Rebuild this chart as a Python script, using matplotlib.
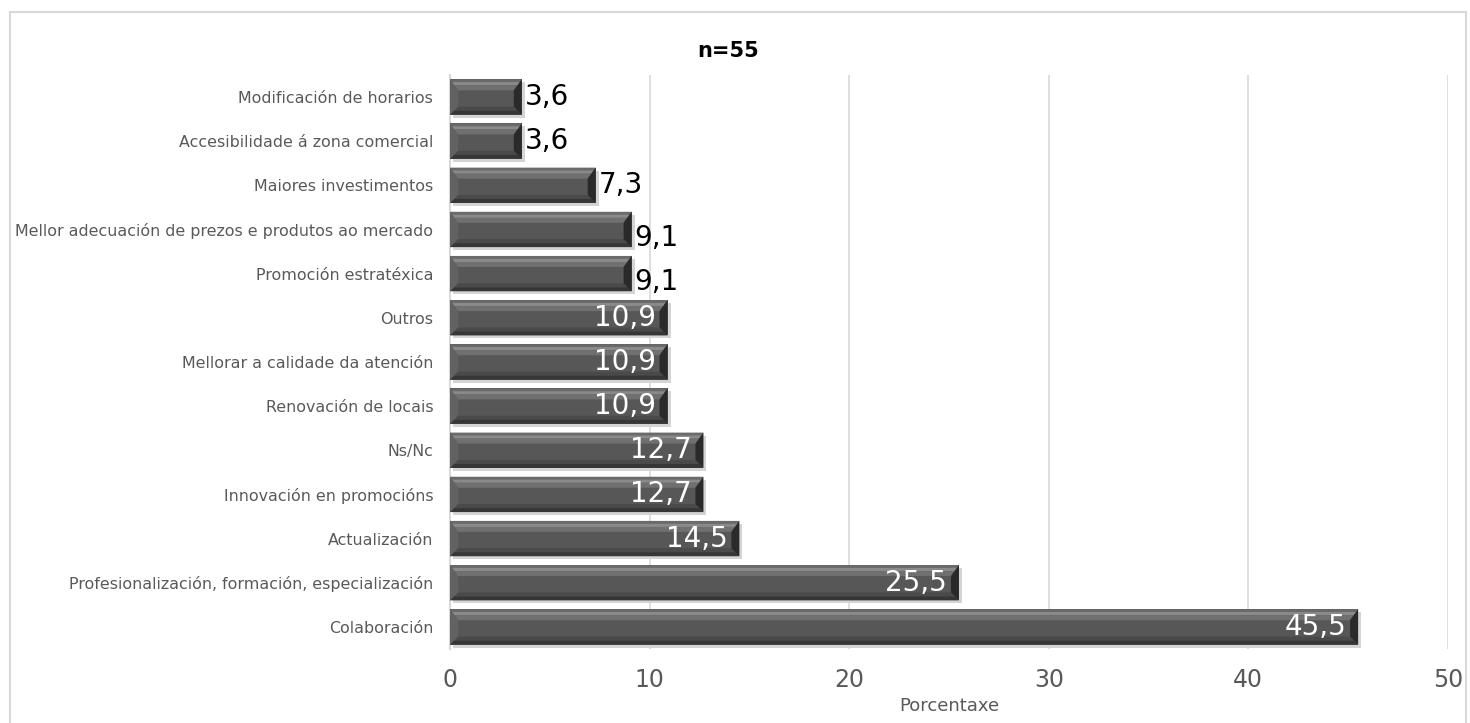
import matplotlib
matplotlib.use("Agg")
import matplotlib.pyplot as plt
from matplotlib.patches import Polygon, Rectangle

# ── Data ──────────────────────────────────────────────────────────────────────
categories = [
    "Modificación de horarios",
    "Accesibilidade á zona comercial",
    "Maiores investimentos",
    "Mellor adecuación de prezos e produtos ao mercado",
    "Promoción estratéxica",
    "Outros",
    "Mellorar a calidade da atención",
    "Renovación de locais",
    "Ns/Nc",
    "Innovación en promocións",
    "Actualización",
    "Profesionalización, formación, especialización",
    "Colaboración",
]
values = [3.6, 3.6, 7.3, 9.1, 9.1, 10.9, 10.9, 10.9, 12.7, 12.7, 14.5, 25.5, 45.5]
xticks = [0, 10, 20, 30, 40, 50]

TITLE = "n=55"
XLABEL = "Porcentaxe"

plt.rcParams["font.family"] = ["DejaVu Sans"]

fig = plt.figure(figsize=(14.7, 7.23), dpi=100)
ax = fig.add_axes([0.3061, 0.1024, 0.6789, 0.794])

n = len(categories)
ypos = [n - 1 - i for i in range(n)]
bar_h = 0.80

ax.set_xlim(0, 50)
ax.set_ylim(-0.5, n - 0.5)

# pixel -> data scale, used for the bevel edges and label offsets
p0 = ax.transData.transform((0, 0))
p1 = ax.transData.transform((1, 1))
sx, sy = p1[0] - p0[0], p1[1] - p0[1]
bx = 8 / sx            # end bevel width
bt, bb = 11 / sy, 8 / sy   # top / bottom bevel depth
shx, shy = 3 / sx, 3 / sy


def band(x0, x1, ya, yb, inset_a, inset_b):
    return [(x0 + inset_a, ya), (x1 - inset_a, ya), (x1 - inset_b, yb), (x0 + inset_b, yb)]


for y, v in zip(ypos, values):
    yb, yt = y - bar_h / 2, y + bar_h / 2
    # soft drop shadow
    ax.add_patch(Rectangle((shx, yb - shy), v, bar_h, color="#d4d4d4", zorder=2, lw=0))
    ax.barh(y, v, height=bar_h, color="#575757", zorder=3, lw=0)

    # top bevel: graded light band
    steps = [("#6a6a6a", 0.0, 0.25), ("#8a8a8a", 0.25, 0.55), ("#707070", 0.55, 1.0)]
    for c, a, b in steps:
        ax.add_patch(Polygon(band(0, v, yt - a * bt, yt - b * bt, a * bx, b * bx),
                             closed=True, color=c, lw=0, zorder=4))
    # bottom bevel: darker toward the edge
    steps = [("#4a4a4a", 0.0, 0.5), ("#363636", 0.5, 1.0)]
    for c, a, b in steps:
        ax.add_patch(Polygon(band(0, v, yb + bb - a * bb, yb + bb - b * bb,
                                  (1 - a) * bx, (1 - b) * bx),
                             closed=True, color=c, lw=0, zorder=4))
    # end caps
    left = [(0, yb), (0, yt), (bx, yt - bt), (bx, yb + bb)]
    right = [(v, yb), (v, yt), (v - bx, yt - bt), (v - bx, yb + bb)]
    ax.add_patch(Polygon(left, closed=True, color="#626262", lw=0, zorder=4))
    ax.add_patch(Polygon(right, closed=True, color="#2a2a2a", lw=0, zorder=4))

    lab = f"{v:.1f}".replace(".", ",")
    if v >= 10:
        ax.text(v - 12 / sx, y, lab, ha="right", va="center", fontsize=20,
                color="white", zorder=6)
    elif v > 9:
        ax.text(v + 3 / sx, y - 0.2, lab, ha="left", va="center", fontsize=20,
                color="black", zorder=6)
    else:
        ax.text(v + 3 / sx, y, lab, ha="left", va="center", fontsize=20,
                color="black", zorder=6)

ax.set_yticks(ypos)
ax.set_yticklabels(categories, fontsize=11.4, color="#595959")
ax.set_xticks(xticks)
ax.set_xticklabels([str(t) for t in xticks], fontsize=17, color="#595959")
ax.tick_params(axis="both", length=0)
ax.tick_params(axis="y", pad=12)
ax.tick_params(axis="x", pad=14)
ax.set_xlabel(XLABEL, fontsize=13, color="#595959", labelpad=3)

ax.grid(axis="x", color="#d9d9d9", lw=1.2, zorder=0)
ax.set_axisbelow(True)
for side in ["top", "right", "bottom"]:
    ax.spines[side].set_visible(False)
ax.spines["left"].set_color("#d9d9d9")
ax.spines["left"].set_linewidth(1.5)

fig.text(0.495, 0.93, TITLE, ha="center", va="center", fontsize=15, fontweight="bold")

# outer frame
fig.add_artist(Rectangle((10 / 1470, -0.01), 1456 / 1470, 1 - 12 / 723 + 0.01,
                         transform=fig.transFigure, fill=False, edgecolor="#d9d9d9", lw=1.5))

fig.savefig("out.png", dpi=100)
